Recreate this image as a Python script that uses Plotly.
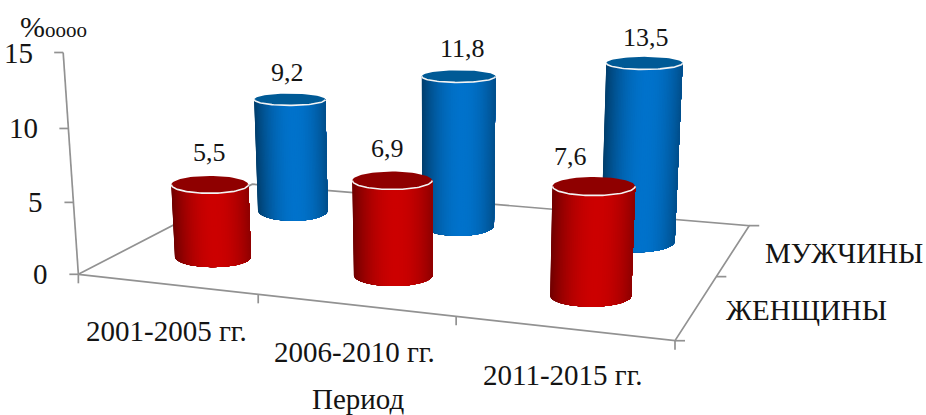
import numpy as np
import plotly.graph_objects as go

periods = ["2001-2005 гг.", "2006-2010 гг.", "2011-2015 гг."]
groups = ["ЖЕНЩИНЫ", "МУЖЧИНЫ"]
women = [5.5, 6.9, 7.6]
men = [9.2, 11.8, 13.5]
value_ticks = [0, 5, 10, 15]
value_text = {5.5: "5,5", 6.9: "6,9", 7.6: "7,6", 9.2: "9,2", 11.8: "11,8", 13.5: "13,5"}

WIDTH, HEIGHT = 926, 415
FONT = "Liberation Serif"
INK = "#141414"
AXIS_GREY = "#929292"
COLUMN_SCALE = 0.94   # columns read slightly shorter than the wall scale
RADIUS_X = 0.208

# Pinhole camera for the oblique view: (period, group, value) -> canvas position
CAMERA_POINTS = [
    (0, 0, 0, 77, 274), (1, 0, 0, 258, 293), (2, 0, 0, 458, 317), (3, 0, 0, 674, 340),
    (3, 1, 0, 717, 279), (3, 2, 0, 747, 230), (0, 2, 0, 255, 185),
    (0, 0, 5, 73, 203), (0, 0, 10, 69, 131), (0, 0, 15, 63, 56),
    (0.5, 0.5, 0, 212, 258), (1.5, 0.5, 0, 394, 270), (2.5, 0.5, 0, 591, 296),
    (0.5, 1.5, 0, 291, 210), (1.5, 1.5, 0, 458, 225), (2.5, 1.5, 0, 639, 241),
    (0.5, 0.5, 5.5 * COLUMN_SCALE, 209, 184), (1.5, 0.5, 6.9 * COLUMN_SCALE, 394, 180),
    (2.5, 0.5, 7.6 * COLUMN_SCALE, 594, 186), (0.5, 1.5, 9.2 * COLUMN_SCALE, 289, 98),
    (1.5, 1.5, 11.8 * COLUMN_SCALE, 459, 73), (2.5, 1.5, 13.5 * COLUMN_SCALE, 644, 62),
]


def solve_camera(points):
    rows, rhs = [], []
    for X, Y, Z, u, v in points:
        rows.append([X, Y, Z, 1, 0, 0, 0, 0, -u * X, -u * Y, -u * Z])
        rhs.append(u)
        rows.append([0, 0, 0, 0, X, Y, Z, 1, -v * X, -v * Y, -v * Z])
        rhs.append(v)
    sol = np.linalg.lstsq(np.array(rows, float), np.array(rhs, float), rcond=None)[0]
    return np.append(sol, 1.0).reshape(3, 4)


CAMERA = solve_camera(CAMERA_POINTS)


def project(X, Y, Z):
    a, b, c = CAMERA @ np.array([X, Y, Z, 1.0])
    return float(a / c), float(b / c)


fig = go.Figure()


def polyline(xs, ys, color=AXIS_GREY, width=1.7):
    fig.add_trace(go.Scatter(x=list(xs), y=list(ys), mode="lines",
                             line=dict(color=color, width=width),
                             hoverinfo="skip", showlegend=False))


def polygon(xs, ys, color):
    fig.add_trace(go.Scatter(x=list(xs), y=list(ys), mode="lines", fill="toself",
                             fillcolor=color, line=dict(color=color, width=0),
                             hoverinfo="skip", showlegend=False))


def label(x, y, text, size=29, anchor="center"):
    fig.add_annotation(x=x, y=y, xref="x", yref="y", text=text, showarrow=False,
                       xanchor=anchor, yanchor="middle",
                       font=dict(family=FONT, size=size, color=INK))


def mix(dark, bright, f):
    rgb = [round(d + (b - d) * f) for d, b in zip(dark, bright)]
    return "rgb({},{},{})".format(*rgb)


def span(X, Y, Z):
    """Canvas half-width of a column of RADIUS_X at this spot."""
    x0, _ = project(X - RADIUS_X, Y, Z)
    x1, _ = project(X + RADIUS_X, Y, Z)
    return (x1 - x0) / 2


def disc(X, Y, Z, flatness):
    """Level disc on a column axis; widths are eased towards the row's middle column."""
    cx, cy = project(X, Y, Z)
    half = 0.65 * span(1.5, Y, Z) + 0.35 * span(X, Y, Z)
    return cx, cy, half, half * flatness


def cylinder(X, Y, value, dark, bright, top, top_flat, base_flat):
    height = value * COLUMN_SCALE
    tcx, tcy, thw, thh = disc(X, Y, height, top_flat)
    bcx, bcy, bhw, bhh = disc(X, Y, 0, base_flat)
    # Front half of each rim, left to right
    t = np.linspace(np.pi, 0, 61)
    bx, by = bcx + bhw * np.cos(t), bcy + bhh * np.sin(t)
    tx, ty = tcx + thw * np.cos(t), tcy + thh * np.sin(t)
    # Each strip runs from its own angle to the right edge, so later strips overlap cleanly
    for i in range(60):
        u = float(np.cos((t[i] + t[i + 1]) / 2))
        f = max(0.0, 1 - abs(u - 0.1) ** 2.0 / 1.1 ** 2.0)
        xs = np.concatenate([bx[i:], tx[i:][::-1], bx[i:i + 1]])
        ys = np.concatenate([by[i:], ty[i:][::-1], by[i:i + 1]])
        polygon(xs, ys, mix(dark, bright, f))
    # Top face and its bright front edge
    ring = np.linspace(0, 2 * np.pi, 73)
    polygon(tcx + thw * np.cos(ring), tcy + thh * np.sin(ring), top)
    polyline(tx, ty, "#f4f4f4", 1.6)


# Floor outline and axes
corners = [project(a, b, 0) for a, b in [(0, 0), (3, 0), (3, 2), (0, 2), (0, 0)]]
polyline([c[0] for c in corners], [c[1] for c in corners])
wall = [project(0, 0, 0), project(0, 0, 15)]
polyline([c[0] for c in wall], [c[1] for c in wall])

# Tick marks, pointing away from the floor
TICK = 9
for v in value_ticks:
    x, y = project(0, 0, v)
    polyline([x - TICK, x], [y, y])
    label(x - 28, y, str(v), anchor="right")
for i in range(len(periods) + 1):
    x, y = project(i, 0, 0)
    polyline([x, x], [y, y + TICK])
for j in range(len(groups) + 1):
    x, y = project(3, j, 0)
    polyline([x, x + TICK + 1], [y, y])

# Back row first so the front row paints over it
BLUE = ((0, 62, 108), (0, 114, 203), "#005a96", 0.165, 0.30)
RED = ((112, 0, 0), (204, 0, 0), "#8f0000", 0.225, 0.27)
for i, v in enumerate(men):
    cylinder(i + 0.5, 1.5, v, *BLUE)
for i, v in enumerate(women):
    cylinder(i + 0.5, 0.5, v, *RED)

# Value captions above each column, nudged clear of neighbours
WOMEN_NUDGE = [(0, -32), (-5, -32), (-23, -30)]
MEN_NUDGE = [(-2, -27), (4, -28), (2, -26)]
for row, vals, nudges in ((0.5, women, WOMEN_NUDGE), (1.5, men, MEN_NUDGE)):
    for i, v in enumerate(vals):
        x, y = project(i + 0.5, row, v * COLUMN_SCALE)
        label(x + nudges[i][0], y + nudges[i][1], value_text[v], size=26)

# Category names along the front and right edges of the floor
for i, name in enumerate(periods):
    x, y = project(i + 0.5, 0, 0)
    label(x, y + 47, name)
for j, name in enumerate(groups):
    x, y = project(3, j + 0.5, 0)
    label(x + 110, y + 3, name)

label(358, 399, "Период")
label(53, 26, "%<span style='font-size:21px'>оооо</span>", size=30)

fig.update_layout(
    width=WIDTH, height=HEIGHT, margin=dict(l=0, r=0, t=0, b=0),
    paper_bgcolor="white", plot_bgcolor="white", showlegend=False,
    xaxis=dict(range=[0, WIDTH], visible=False, fixedrange=True),
    yaxis=dict(range=[HEIGHT, 0], visible=False, fixedrange=True),
)
fig.write_html("out.html", config={"displayModeBar": False})
